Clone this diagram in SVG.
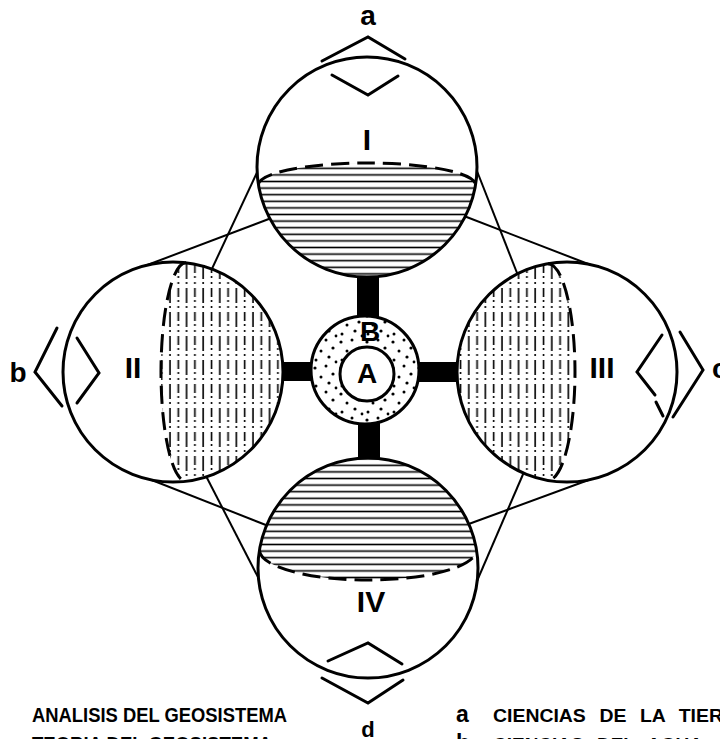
<svg xmlns="http://www.w3.org/2000/svg" width="720" height="739" viewBox="0 0 720 739">
<defs>
<style>
.bg{fill:#fff;stroke:none}
.ol{fill:none;stroke:#000;stroke-width:3}
.da{fill:none;stroke:#000;stroke-width:3;stroke-dasharray:18 8}
.ch{fill:none;stroke:#000;stroke-width:3;stroke-linecap:round;stroke-linejoin:miter}
.tl{fill:none;stroke:#000;stroke-width:2}
.bar{fill:#000}
.hh{fill:url(#hh);stroke:none}
.vh{fill:url(#vh);stroke:none}
text{font-family:"Liberation Sans",Arial,sans-serif;font-weight:bold;fill:#000}
.lab{font-size:28px;text-anchor:middle}
.rom{font-size:30px;text-anchor:middle}
.leg{font-size:19.5px}
.leg2{font-size:19px}
</style>
<pattern id="hh" patternUnits="userSpaceOnUse" width="20" height="6.6">
<line x1="0" y1="3.3" x2="20" y2="3.3" stroke="#000" stroke-width="1.6"/>
</pattern>
<pattern id="vh" patternUnits="userSpaceOnUse" width="16.6" height="24">
<line x1="4" y1="0" x2="4" y2="24" stroke="#000" stroke-width="1.6" stroke-dasharray="15 3 2 4"/>
<line x1="12.3" y1="0" x2="12.3" y2="24" stroke="#000" stroke-width="1.6" stroke-dasharray="9 3 2 4 2 4"/>
</pattern>
<pattern id="dots" patternUnits="userSpaceOnUse" width="26" height="26">
<circle cx="3" cy="4" r="1.6"/>
<circle cx="14" cy="2" r="1.5"/>
<circle cx="21" cy="10" r="1.6"/>
<circle cx="9" cy="13" r="1.5"/>
<circle cx="17" cy="19" r="1.6"/>
<circle cx="4" cy="22" r="1.5"/>
<circle cx="24" cy="24" r="1.4"/>
</pattern>
</defs>
<rect x="0" y="0" width="720" height="739" fill="#fff"/>

<g id="connectors">
<line class="tl" x1="260" y1="166" x2="210" y2="273"/>
<line class="tl" x1="274" y1="217" x2="142" y2="267"/>
<line class="tl" x1="475" y1="166" x2="519" y2="278"/>
<line class="tl" x1="464" y1="216" x2="596" y2="267"/>
<line class="tl" x1="144" y1="477" x2="271" y2="527"/>
<line class="tl" x1="206" y1="476" x2="260" y2="581"/>
<line class="tl" x1="524" y1="472" x2="477" y2="581"/>
<line class="tl" x1="466" y1="525" x2="594" y2="478"/>
<rect class="bar" x="357" y="262" width="22" height="66"/>
<rect class="bar" x="358" y="412" width="22" height="56"/>
<rect class="bar" x="272" y="362" width="60" height="19"/>
<rect class="bar" x="398" y="362" width="70" height="20"/>
</g>

<g id="node-I">
<circle class="bg" cx="367" cy="167" r="110"/>
<path class="hh" d="M258.5,185 A108.5,22 0 0 1 475.5,185 A110,110 0 0 1 258.5,185 Z"/>
<path class="da" d="M258.5,185 A108.5,22 0 0 1 475.5,185"/>
<circle class="ol" cx="367" cy="167" r="110"/>
<text class="rom" x="367" y="150">I</text>
<polyline class="ch" points="322,61 368,37 405,59"/>
<polyline class="ch" points="332,75 368,95 398,76"/>
<text class="lab" x="368" y="25">a</text>
</g>

<g id="node-II">
<circle class="bg" cx="173" cy="372" r="110"/>
<path class="vh" d="M186,262.8 A25,109.2 0 0 0 186,481.2 A110,110 0 0 0 186,262.8 Z"/>
<path class="da" d="M186,262.8 A25,109.2 0 0 0 186,481.2"/>
<circle class="ol" cx="173" cy="372" r="110"/>
<text class="rom" x="133" y="378">II</text>
<polyline class="ch" points="57,328 35,372 62,406"/>
<polyline class="ch" points="77,338 99,373 77,403"/>
<text class="lab" x="18" y="382">b</text>
</g>

<g id="node-III">
<circle class="bg" cx="567" cy="372" r="110"/>
<path class="vh" d="M548,263.7 A27,108.3 0 0 1 548,480.3 A110,110 0 0 1 548,263.7 Z"/>
<path class="da" d="M548,263.7 A27,108.3 0 0 1 548,480.3"/>
<circle class="ol" cx="567" cy="372" r="110"/>
<text class="rom" x="602" y="378">III</text>
<polyline class="ch" points="662,335 637,372 655,395"/>
<line class="ch" x1="656" y1="402" x2="663" y2="416"/>
<polyline class="ch" points="680,332 703,370 673,417"/>
<text class="lab" x="712" y="378" style="text-anchor:start">c</text>
</g>

<g id="node-IV">
<circle class="bg" cx="368" cy="568" r="110"/>
<path class="hh" d="M259.5,550 A108.5,30 0 0 0 476.5,550 A110,110 0 0 0 259.5,550 Z"/>
<path class="da" d="M259.5,550 A108.5,30 0 0 0 476.5,550"/>
<circle class="ol" cx="368" cy="568" r="110"/>
<text class="rom" x="371" y="612">IV</text>
<polyline class="ch" points="328,661 368,643 402,664"/>
<polyline class="ch" points="322,678 368,703 403,680"/>
<text x="368" y="737" style="font-size:22px;text-anchor:middle">d</text>
</g>

<g id="node-B">
<circle cx="365" cy="370" r="54" fill="#fff"/>
<circle cx="365" cy="370" r="54" fill="url(#dots)" stroke="#000" stroke-width="3"/>
<circle cx="367" cy="374" r="27" fill="#fff" stroke="#000" stroke-width="3"/>
<text class="lab" x="370" y="341">B</text>
<text class="lab" x="367" y="383">A</text>
</g>

<g id="legend">
<text class="leg" x="32" y="722" textLength="255" lengthAdjust="spacingAndGlyphs">ANALISIS DEL GEOSISTEMA</text>
<text class="leg" x="32" y="751" textLength="240" lengthAdjust="spacingAndGlyphs">TEORIA DEL GEOSISTEMA</text>
<text x="456" y="722" style="font-size:23px">a</text>
<text class="leg2" x="493" y="722" textLength="258" lengthAdjust="spacingAndGlyphs" style="word-spacing:8px">CIENCIAS DE LA TIERRA</text>
<text x="456" y="751" style="font-size:23px">b</text>
<text class="leg2" x="493" y="751" textLength="210" lengthAdjust="spacingAndGlyphs" style="word-spacing:8px">CIENCIAS DEL AGUA</text>
</g>
</svg>
